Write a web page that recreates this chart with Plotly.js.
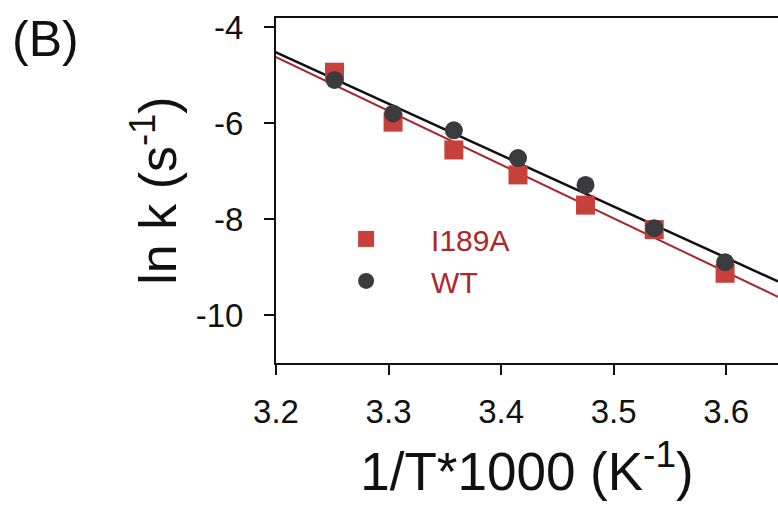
<!DOCTYPE html>
<html>
<head>
<meta charset="utf-8">
<script src="https://cdn.plot.ly/plotly-3.0.1.min.js"></script>
<style>html,body{margin:0;padding:0;background:#fff;}#chart{width:778px;height:515px;}</style>
</head>
<body>
<div id="chart"></div>
<script>
// Data
const invT1000 = [3.252, 3.304, 3.358, 3.415, 3.475, 3.536, 3.599];
const lnkI189A = [-4.94, -5.98, -6.56, -7.08, -7.71, -8.22, -9.13];
const lnkWT    = [-5.10, -5.80, -6.15, -6.73, -7.29, -8.19, -8.90];
const seriesNames = ["I189A", "WT"];
const xRange = [3.2, 3.646];
const yRange = [-11, -3.81];
const xTicks = [3.2, 3.3, 3.4, 3.5, 3.6];
const yTicks = [-4, -6, -8, -10];

function linFit(x, y) {
  const n = x.length;
  const mx = x.reduce((a, b) => a + b, 0) / n;
  const my = y.reduce((a, b) => a + b, 0) / n;
  let sxy = 0, sxx = 0;
  for (let i = 0; i < n; i++) { sxy += (x[i] - mx) * (y[i] - my); sxx += (x[i] - mx) ** 2; }
  const m = sxy / sxx;
  return { m: m, b: my - m * mx };
}
const fitX = [xRange[0] - 0.05, xRange[1] + 0.05];
const fI = linFit(invT1000, lnkI189A);
const fW = linFit(invT1000, lnkWT);

const FONT = "Arial, 'Liberation Sans', sans-serif";

const traces = [
  { x: fitX, y: fitX.map(v => fI.m * v + fI.b), mode: "lines", showlegend: false,
    line: { color: "#a8262b", width: 2 }, hoverinfo: "skip" },
  { x: fitX, y: fitX.map(v => fW.m * v + fW.b), mode: "lines", showlegend: false,
    line: { color: "#111111", width: 2.5 }, hoverinfo: "skip" },
  { x: invT1000, y: lnkI189A, mode: "markers", name: seriesNames[0],
    marker: { symbol: "square", size: 19, color: "#c8403b" } },
  { x: invT1000, y: lnkWT, mode: "markers", name: seriesNames[1],
    marker: { symbol: "circle", size: 18, color: "#3b3b3d" } }
];

const layout = {
  width: 778, height: 515,
  margin: { l: 276, r: 0, t: 18, b: 152 },
  paper_bgcolor: "#ffffff", plot_bgcolor: "#ffffff",
  font: { family: FONT, color: "#111" },
  showlegend: true,
  legend: {
    x: 0.05, y: 0.435, xanchor: "left", yanchor: "top",
    bgcolor: "rgba(0,0,0,0)", borderwidth: 0,
    font: { family: FONT, size: 30, color: "#b0262b" },
    itemwidth: 120, itemsizing: "trace", tracegroupgap: 0
  },
  xaxis: {
    range: xRange, tickvals: xTicks, ticktext: xTicks.map(v => v.toFixed(1)),
    showgrid: false, zeroline: false,
    showline: true, mirror: true, linecolor: "#111", linewidth: 2,
    ticks: "outside", ticklen: 10, tickwidth: 2, tickcolor: "#111",
    ticklabelstandoff: 8,
    tickfont: { family: FONT, size: 33, color: "#111" },
    title: { text: "1/T*1000 (K<sup>-1</sup>)", font: { family: FONT, size: 53, color: "#111" }, standoff: 24 }
  },
  yaxis: {
    range: yRange, tickvals: yTicks, ticktext: yTicks.map(v => String(v)),
    showgrid: false, zeroline: false,
    showline: true, mirror: false, linecolor: "#111", linewidth: 2,
    ticks: "outside", ticklen: 10, tickwidth: 2, tickcolor: "#111",
    ticklabelstandoff: 14,
    tickfont: { family: FONT, size: 33, color: "#111" },
    title: { text: "ln k (s<sup>-1</sup>)", font: { family: FONT, size: 52, color: "#111" }, standoff: 2 }
  },
  annotations: [
    { text: "(B)", xref: "paper", yref: "paper", x: -0.53, y: 1.025,
      xanchor: "left", yanchor: "top", showarrow: false,
      font: { family: FONT, size: 50, color: "#111" } }
  ]
};

Plotly.newPlot("chart", traces, layout, { displayModeBar: false, staticPlot: true });
</script>
</body>
</html>
